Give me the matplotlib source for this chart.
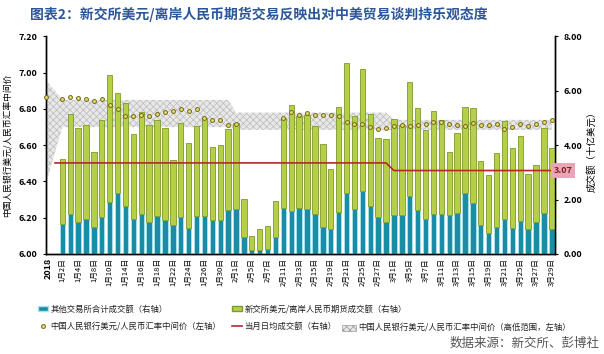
import matplotlib
matplotlib.use("Agg")
import matplotlib.pyplot as plt
import numpy as np
from matplotlib.patches import Patch
from matplotlib.lines import Line2D

# daily volumes (billion USD, right axis)
other_vol = [1.10, 1.46, 1.19, 1.28, 1.00, 1.35, 1.92, 2.23, 1.77, 1.28, 1.47, 1.19, 1.39, 1.25, 1.06, 1.35,
             0.94, 1.39, 1.41, 1.25, 1.25, 1.61,
             1.66, 0.61, 0.15, 0.15, 0.17, 0.63, 1.68, 1.59, 1.71, 1.64, 1.47, 1.00, 0.91, 1.54, 2.25, 1.65,
             2.31, 1.76, 1.35, 1.19,
             1.43, 1.43, 2.14, 1.61, 1.27, 1.47, 1.46, 1.43, 1.49, 2.23, 1.86, 1.06, 0.78, 0.98, 1.27, 0.94,
             1.22, 0.91, 1.16, 1.50, 0.92]
sgx_vol = [2.38, 3.68, 3.46, 3.45, 2.76, 3.59, 4.67, 3.70, 3.78, 3.15, 3.75, 3.57, 3.55, 3.38, 2.39, 3.45,
           3.14, 3.31, 3.61, 2.67, 2.75, 3.00,
           3.14, 1.40, 0.52, 0.77, 0.87, 1.33, 3.31, 3.89, 3.35, 3.47, 3.24, 3.06, 2.22, 3.87, 4.77, 3.44,
           4.49, 3.38, 2.90, 3.04,
           3.52, 3.33, 4.20, 3.76, 3.28, 3.79, 3.46, 2.31, 2.97, 3.18, 3.51, 2.37, 2.11, 2.75, 3.62, 2.97,
           3.11, 2.03, 2.11, 3.15, 2.99]

# PBOC USD/CNY central parity (left axis); first value is the "2018" start point
mid_start = 6.865
mid_rate = [6.854, 6.868, 6.862, 6.857, 6.846, 6.857, 6.822, 6.798, 6.761, 6.761, 6.765, 6.763, 6.774,
            6.783, 6.791, 6.802, 6.787, 6.800, 6.752, 6.740, 6.738, 6.710,
            6.716, np.nan, np.nan, np.nan, np.nan, np.nan, 6.752, 6.785, 6.769, 6.780, 6.769, 6.769,
            6.769, 6.761, 6.727, 6.719, 6.717, 6.699, 6.690, 6.697,
            6.704, 6.710, 6.705, 6.712, 6.716, 6.730, 6.727, 6.717, 6.712, 6.706, 6.723, 6.712, 6.712,
            6.716, 6.691, 6.699, 6.716, 6.708, 6.717, 6.730, 6.739]

# high / low range: start point, Jan, Feb, Mar
band_high = [6.96, 6.85, 6.78, 6.74]
band_low = [6.39, 6.70, 6.685, 6.685]
month_days = [22, 20, 21]
month_avg = [3.35, 3.35, 3.07]

date_labels = ['1月2日', '1月4日', '1月8日', '1月10日', '1月14日', '1月16日', '1月18日', '1月22日',
               '1月24日', '1月26日', '1月30日', '2月1日', '2月5日', '2月7日', '2月11日', '2月13日',
               '2月15日', '2月19日', '2月21日', '2月25日', '2月27日', '3月1日', '3月5日', '3月7日',
               '3月11日', '3月13日', '3月15日', '3月19日', '3月21日', '3月25日', '3月27日', '3月29日']

plt.rcParams['font.family'] = ['Noto Sans CJK SC', 'DejaVu Sans']
plt.rcParams['hatch.linewidth'] = 0.5

teal = '#1a8ca5'
green = '#b5cf49'
red = '#b3282d'

fig = plt.figure(figsize=(6.04, 3.54), dpi=100)
ax = fig.add_axes([0.0762, 0.2825, 0.8427, 0.6144])
ax2 = ax.twinx()
ax3 = ax.twinx()

x = np.arange(len(other_vol))
x0 = -2.06

# range band (behind bars)
bx = np.concatenate([[x0], x])
hi = np.concatenate([[band_high[0]], np.repeat(band_high[1:], month_days)])
lo = np.concatenate([[band_low[0]], np.repeat(band_low[1:], month_days)])
ax.fill_between(bx, lo, hi, facecolor='#e8e8e8', edgecolor='#bbbbbb', hatch='xxxxx', linewidth=0)

# stacked bars
ax2.bar(x, other_vol, width=0.68, color=teal, edgecolor='#a6e6f0', linewidth=0.6)
ax2.bar(x, sgx_vol, width=0.68, bottom=other_vol, color=green, edgecolor='#7d9a2b', linewidth=0.6)

# monthly average line
avg = np.repeat(month_avg, month_days)
ax2.plot(np.concatenate([[-0.92], x, [62.4]]), np.concatenate([[avg[0]], avg, [avg[-1]]]),
         color=red, lw=1.2)
ax2.text(1.016, month_avg[-1], '%.2f' % month_avg[-1], transform=ax2.get_yaxis_transform(),
         ha='center', va='center', fontsize=6.5, fontweight='bold', color='#8b1c1c',
         bbox=dict(boxstyle='square,pad=0.3', facecolor='#e9a6b8', edgecolor='none'), clip_on=False)

# central parity dots
ax3.plot(bx, [mid_start] + mid_rate, 'o', ms=2.8, mfc='#ecd96a', mec='#6f6a1c', mew=0.7, clip_on=False)

ax.set_xlim(x0, 62.4)
ax.set_ylim(6.0, 7.2)
ax3.set_ylim(6.0, 7.2)
ax2.set_ylim(0, 8)
ax3.axis('off')

ax.set_yticks(np.arange(6.0, 7.21, 0.2))
ax.set_yticklabels(['%.2f' % v for v in np.arange(6.0, 7.21, 0.2)])
ax2.set_yticks(np.arange(0, 8.1, 2))
ax2.set_yticklabels(['%.2f' % v for v in np.arange(0, 8.1, 2)])
for a in (ax, ax2):
    a.tick_params(axis='y', labelsize=6.5, length=2, width=0.8, pad=4)
    for t in a.get_yticklabels():
        t.set_fontweight('bold')
    a.spines['top'].set_visible(False)
    for s in ['left', 'right', 'bottom']:
        a.spines[s].set_color('black')
        a.spines[s].set_linewidth(1.0)

ticks = [-1.8] + list(range(0, len(x), 2))
ax.set_xticks(ticks)
ax.set_xticklabels(['2018'] + date_labels, rotation=90, fontsize=5.5)
ax.get_xticklabels()[0].set_fontweight('bold')
ax.get_xticklabels()[0].set_fontsize(6.5)
ax.tick_params(axis='x', length=0, pad=3)

ax.set_ylabel('中国人民银行美元/人民币汇率中间价', fontsize=6.3)
ax.yaxis.set_label_coords(-0.066, 0.5)
ax2.set_ylabel('成交额（十亿美元）', fontsize=6.8)
ax2.yaxis.set_label_coords(1.062, 0.48)

fig.text(0.05, 0.958, '图表2：新交所美元/离岸人民币期货交易反映出对中美贸易谈判持乐观态度',
         fontsize=10, fontweight='bold', color='#2b579a', va='center')
fig.text(0.993, 0.03, '数据来源：新交所、彭博社', fontsize=9, color='#555555', ha='right', va='center')

# legend
leg_kw = dict(frameon=False, fontsize=6, borderpad=0, borderaxespad=0, handletextpad=0.3,
              labelspacing=1.05, labelcolor='#222222')
h_teal = Patch(facecolor=teal, edgecolor='#a6e6f0')
h_green = Patch(facecolor=green, edgecolor='#7d9a2b')
h_dot = Line2D([], [], ls='none', marker='o', ms=2.8, mfc='#ecd96a', mec='#6f6a1c', mew=0.7)
h_red = Line2D([], [], color=red, lw=1.2)
h_band = Patch(facecolor='#e8e8e8', edgecolor='#9a9a9a', hatch='xxxxx', lw=0.5)
fig.legend([h_teal, h_dot], ['其他交易所合计成交额（右轴）', '中国人民银行美元/人民币汇率中间价（左轴）'],
           loc='upper left', bbox_to_anchor=(0.063, 0.14), handlelength=1.2, **leg_kw)
fig.legend([h_green, h_red], ['新交所美元/离岸人民币期货成交额（右轴）', '当月日均成交额（右轴）'],
           loc='upper left', bbox_to_anchor=(0.384, 0.14), handlelength=1.2, **leg_kw)
fig.legend([h_band], ['中国人民银行美元/人民币汇率中间价（高低范围，左轴）'],
           loc='upper left', bbox_to_anchor=(0.566, 0.086), handlelength=1.7, **leg_kw)

fig.savefig('out.png', dpi=100)
